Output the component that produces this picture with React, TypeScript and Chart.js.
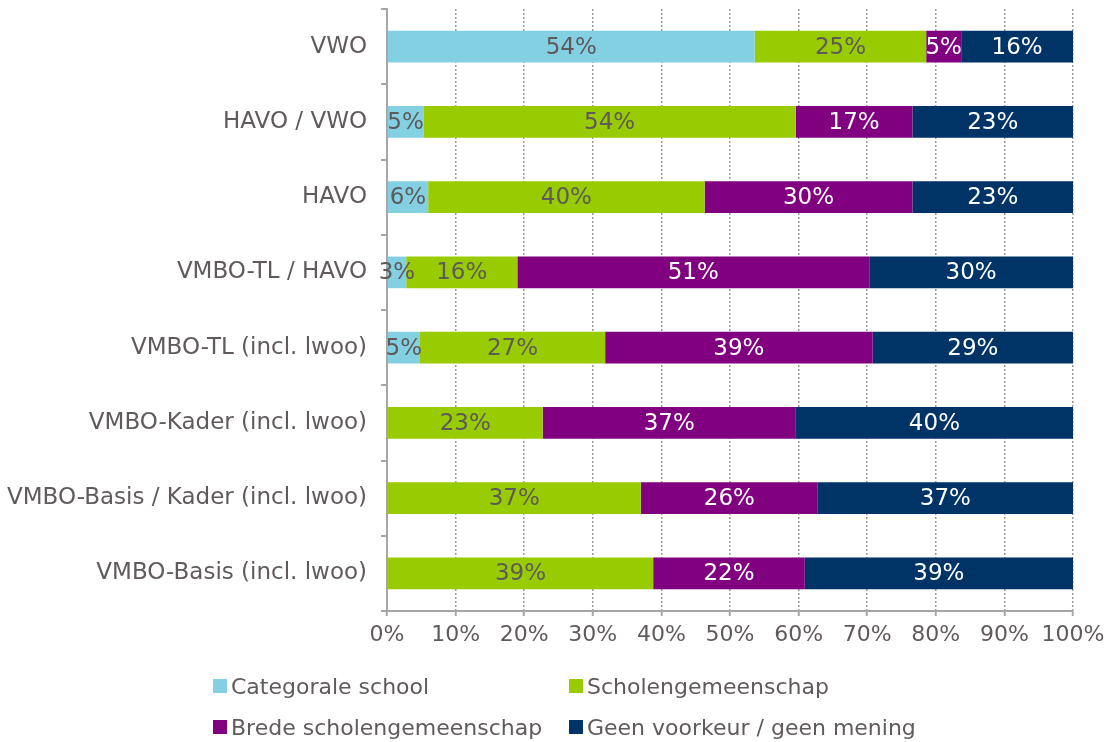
import React, { useEffect, useRef } from "react";
import { Chart, registerables } from "chart.js";

Chart.register(...registerables);

const categories = [
  "VWO",
  "HAVO / VWO",
  "HAVO",
  "VMBO-TL / HAVO",
  "VMBO-TL (incl. lwoo)",
  "VMBO-Kader (incl. lwoo)",
  "VMBO-Basis / Kader (incl. lwoo)",
  "VMBO-Basis (incl. lwoo)",
];

const categorale = [53.6, 5.3, 6.0, 2.8, 4.8, 0, 0, 0];
const scholengemeenschap = [25.0, 54.3, 40.3, 16.2, 27.0, 22.7, 37.0, 38.8];
const brede = [5.1, 17.0, 30.3, 51.3, 39.0, 36.9, 25.8, 22.1];
const geenVoorkeur = [16.3, 23.4, 23.4, 29.7, 29.2, 40.4, 37.2, 39.1];

const seriesNames = [
  "Categorale school",
  "Scholengemeenschap",
  "Brede scholengemeenschap",
  "Geen voorkeur / geen mening",
];
const seriesColors = ["#83D0E3", "#99CC00", "#800080", "#003366"];
const labelColors = ["#5f5959", "#5f5959", "#ffffff", "#ffffff"];

const xTicks = [0, 10, 20, 30, 40, 50, 60, 70, 80, 90, 100];

const TEXT = "#615a5a";
const FONT = "DejaVu Sans";

const dataLabelPlugin = {
  id: "dataLabels",
  afterDatasetsDraw(chart: any) {
    const ctx = chart.ctx;
    ctx.save();
    ctx.font = `23px "${FONT}"`;
    ctx.textAlign = "center";
    ctx.textBaseline = "middle";
    chart.data.datasets.forEach((ds: any, di: number) => {
      const meta = chart.getDatasetMeta(di);
      meta.data.forEach((bar: any, i: number) => {
        const v = ds.data[i];
        if (!v) return;
        const cx = (bar.x + bar.base) / 2;
        ctx.fillStyle = labelColors[di];
        ctx.fillText(Math.round(v) + "%", cx, bar.y + 1);
      });
    });
    ctx.restore();
  },
};

export default function App() {
  const ref = useRef<HTMLCanvasElement>(null);
  useEffect(() => {
    document.body.style.margin = "0";
    const data = [categorale, scholengemeenschap, brede, geenVoorkeur];
    const chart = new Chart(ref.current!, {
      type: "bar",
      data: {
        labels: categories,
        datasets: data.map((d, i) => ({
          label: seriesNames[i],
          data: d,
          backgroundColor: seriesColors[i],
          borderWidth: 0,
          barPercentage: 0.42,
          categoryPercentage: 1,
        })),
      },
      options: {
        indexAxis: "y",
        responsive: false,
        animation: false,
        layout: { padding: { top: 9, right: 37, left: 0, bottom: 0 } },
        plugins: { legend: { display: false }, tooltip: { enabled: false } },
        scales: {
          x: {
            stacked: true,
            min: 0,
            max: 100,
            afterBuildTicks: (s: any) => {
              s.ticks = xTicks.map((v) => ({ value: v }));
            },
            afterFit: (s: any) => {
              s.height = 131;
              s.paddingLeft = 0;
              s.paddingRight = 0;
            },
            ticks: {
              color: TEXT,
              font: { family: FONT, size: 22 },
              padding: 6,
              autoSkip: false,
              maxRotation: 0,
              minRotation: 0,
              callback: (v: any) => v + "%",
            },
            grid: {
              color: "#9a9a9a",
              tickBorderDash: [],
              tickColor: "#a6a6a6",
              tickLength: 5,
              tickWidth: 2,
              lineWidth: 1.5,
            },
            border: { display: true, color: "#a6a6a6", width: 2, dash: [2, 2] },
          },
          y: {
            stacked: true,
            afterFit: (s: any) => {
              s.width = 387;
              s.paddingTop = 0;
              s.paddingBottom = 0;
            },
            ticks: {
              color: TEXT,
              font: { family: FONT, size: 23 },
              padding: 14,
              autoSkip: false,
            },
            grid: {
              drawOnChartArea: false,
              drawTicks: true,
              tickLength: 6,
              color: "#a6a6a6",
              lineWidth: 2,
            },
            border: { display: true, color: "#a6a6a6", width: 2 },
          },
        },
      },
      plugins: [dataLabelPlugin],
    });
    return () => chart.destroy();
  }, []);

  const legendPos = [
    { x: 213, y: 679 },
    { x: 569, y: 679 },
    { x: 213, y: 720 },
    { x: 569, y: 720 },
  ];

  return (
    <div style={{ position: "fixed", left: 0, top: 0, width: 1110, height: 742, background: "#fff" }}>
      <canvas ref={ref} width={1110} height={742} style={{ position: "absolute", left: 0, top: 0 }} />
      {seriesNames.map((n, i) => (
        <div
          key={n}
          style={{
            position: "absolute",
            left: legendPos[i].x,
            top: legendPos[i].y - 7,
            height: 28,
            display: "flex",
            alignItems: "center",
            fontFamily: FONT,
            fontSize: 22,
            color: TEXT,
            whiteSpace: "nowrap",
          }}
        >
          <span style={{ display: "inline-block", width: 14, height: 14, background: seriesColors[i], marginRight: 4 }} />
          <span>{n}</span>
        </div>
      ))}
    </div>
  );
}
